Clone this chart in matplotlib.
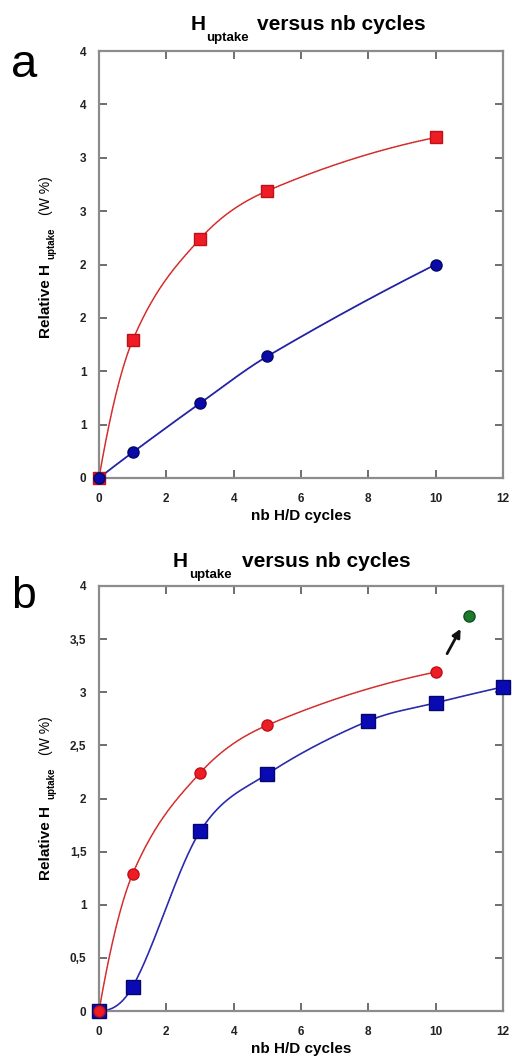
import numpy as np
import matplotlib
matplotlib.use("Agg")
import matplotlib.pyplot as plt

# ---------------- data ----------------
cycles_a = [0, 1, 3, 5, 10]
red_a = [0, 1.29, 2.24, 2.69, 3.19]
blue_a = [0, 0.24, 0.70, 1.14, 2.00]

cycles_b_red = [0, 1, 3, 5, 10]
red_b = [0, 1.29, 2.24, 2.69, 3.19]
cycles_b_blue = [0, 1, 3, 5, 8, 10, 12]
blue_b = [0, 0.23, 1.69, 2.23, 2.73, 2.90, 3.05]
green_x = [11]
green_y = [3.72]
arrow_from = (10.3, 3.34)
arrow_to = (10.78, 3.62)

xticks = [0, 2, 4, 6, 8, 10, 12]
yticks = [0, 0.5, 1, 1.5, 2, 2.5, 3, 3.5, 4]
ylabels_a = ["0", "1", "1", "2", "2", "3", "3", "4", "4"]
ylabels_b = ["0", "0,5", "1", "1,5", "2", "2,5", "3", "3,5", "4"]

plt.rcParams['font.family'] = ['Liberation Sans', 'DejaVu Sans']

W, H = 512, 1059


def fp(x, y):
    # pixel -> figure fraction
    return x / W, 1 - y / H


def smooth(x, y, n=300):
    # Catmull-Rom style cubic Hermite through the points, only for drawing
    x = np.asarray(x, float)
    y = np.asarray(y, float)
    h = np.diff(x)
    d = np.diff(y) / h
    k = len(x)
    m = np.zeros(k)
    for i in range(1, k - 1):
        m[i] = (y[i + 1] - y[i - 1]) / (x[i + 1] - x[i - 1])
    m[0] = max(2 * d[0] - m[1], 0)
    m[-1] = max(2 * d[-1] - m[-2], 0)
    xs = np.linspace(x[0], x[-1], n)
    j = np.clip(np.searchsorted(x, xs) - 1, 0, k - 2)
    t = (xs - x[j]) / h[j]
    h00 = 2 * t ** 3 - 3 * t ** 2 + 1
    h10 = t ** 3 - 2 * t ** 2 + t
    h01 = -2 * t ** 3 + 3 * t ** 2
    h11 = t ** 3 - t ** 2
    ys = h00 * y[j] + h10 * h[j] * m[j] + h01 * y[j + 1] + h11 * h[j] * m[j + 1]
    return xs, ys


def curve(ax, x, y, col, dark, lw):
    xs, ys = smooth(x, y)
    ax.plot(xs, ys, color=col, lw=lw, zorder=2)
    ax.plot(xs, ys, color=dark, lw=lw * 0.5, dashes=(1.5, 1.5), alpha=0.6, zorder=2)


def style(ax, ylabs):
    ax.set_xlim(0, 12)
    ax.set_ylim(0, 4)
    ax.set_xticks(xticks)
    ax.set_yticks(yticks)
    ax.set_yticklabels(ylabs)
    for s in ax.spines.values():
        s.set_color('#8c8c8c')
        s.set_linewidth(1.6)
    ax.tick_params(direction='in', top=True, right=True, length=6, width=1.2,
                   color='#555555', labelsize=8.5)
    ax.tick_params(axis='x', pad=11)
    ax.tick_params(axis='y', pad=9)
    for lab in ax.get_xticklabels() + ax.get_yticklabels():
        lab.set_fontweight('bold')
        lab.set_color('#222222')
    ax.set_xlabel('nb H/D cycles', fontsize=11, fontweight='bold', labelpad=3)


fig = plt.figure(figsize=(W / 100, H / 100), dpi=100)

# ---------------- panel a ----------------
ax1 = fig.add_axes([99 / W, 1 - 478 / H, 404 / W, 427 / H])
curve(ax1, cycles_a, red_a, '#e63a3a', '#7a1010', 1.1)
curve(ax1, cycles_a, blue_a, '#2a2ab8', '#10104a', 1.3)
ax1.plot(cycles_a, red_a, 's', color='#ee1c24', mec='#c01018', ms=8.5, clip_on=False, zorder=3)
ax1.plot(cycles_a, blue_a, 'o', color='#0a0aa8', mec='#05056a', ms=8, clip_on=False, zorder=4)
style(ax1, ylabels_a)

# ---------------- panel b ----------------
ax2 = fig.add_axes([99 / W, 1 - 1011 / H, 404 / W, 425 / H])
curve(ax2, cycles_b_blue, blue_b, '#3535c0', '#10104a', 1.2)
curve(ax2, cycles_b_red, red_b, '#e63a3a', '#7a1010', 1.1)
ax2.plot(cycles_b_blue, blue_b, 's', color='#0a0ab4', mec='#05056a', ms=9.5, clip_on=False, zorder=3)
ax2.plot(cycles_b_red, red_b, 'o', color='#ee1c24', mec='#c01018', ms=8, clip_on=False, zorder=4)
ax2.plot(green_x, green_y, 'o', color='#1e7a2e', mec='#10501a', ms=8, clip_on=False, zorder=4)
ax2.annotate('', xy=arrow_to, xytext=arrow_from,
             arrowprops=dict(arrowstyle='-|>', color='#111111', lw=2, mutation_scale=12))
style(ax2, ylabels_b)

# ---------------- titles, y labels, panel letters ----------------
for (hx, hy), (ux, uy), (vx, vy) in [((191, 30), (206, 41), (257, 30)),
                                     ((173, 567), (189, 578), (242, 567))]:
    fig.text(*fp(hx, hy), 'H', fontsize=15, fontweight='bold', ha='left', va='baseline')
    fig.text(*fp(ux, uy), 'uptake', fontsize=9.5, fontweight='bold', ha='left', va='baseline')
    fig.text(*fp(vx, vy), 'versus nb cycles', fontsize=15, fontweight='bold', ha='left', va='baseline')

for y0, y1, y2 in [(338, 259, 215), (880, 799, 755)]:
    fig.text(*fp(50, y0), 'Relative H', fontsize=11, fontweight='bold', rotation=90,
             rotation_mode='anchor', ha='left', va='baseline')
    fig.text(*fp(54, y1), 'uptake', fontsize=7, fontweight='bold', rotation=90,
             rotation_mode='anchor', ha='left', va='baseline')
    fig.text(*fp(50, y2), '(W %)', fontsize=10, rotation=90,
             rotation_mode='anchor', ha='left', va='baseline')

fig.text(*fp(11, 77), 'a', fontsize=34, ha='left', va='baseline')
fig.text(*fp(11, 608), 'b', fontsize=32, ha='left', va='baseline')

fig.savefig('out.png', dpi=100)
